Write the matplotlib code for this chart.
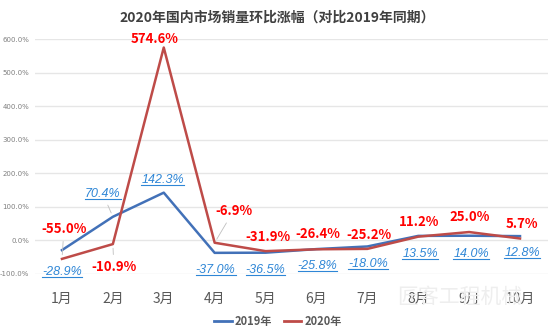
import matplotlib
matplotlib.use('Agg')
import matplotlib.pyplot as plt
from matplotlib.lines import Line2D
from matplotlib.text import Text

plt.rcParams['font.family'] = ['Noto Sans CJK SC', 'DejaVu Sans']

# data
months = ['1月', '2月', '3月', '4月', '5月', '6月', '7月', '8月', '9月', '10月']
sales_2019 = [-28.9, 70.4, 142.3, -37.0, -36.5, -25.8, -18.0, 13.5, 14.0, 12.8]
sales_2020 = [-55.0, -10.9, 574.6, -6.9, -31.9, -26.4, -25.2, 11.2, 25.0, 5.7]

# label offsets (pixels) and whether a leader line is drawn
off_2019 = [(0, -22), (-10, 23), (-1, 13), (1, -17), (0, -17), (1, -17), (1, -18), (2, -18), (2, -18), (2, -17)]
lead_2019 = [False, True, False, False, False, False, False, False, False, False]
off_2020 = [(2, 30), (1, -23), (-9, 9), (19, 32), (2, 14), (1, 15), (2, 14), (1, 15), (1, 15), (2, 15)]
lead_2020 = [True, True, False, True, False, False, False, False, False, False]

blue = '#4271B8'
red = '#BE4B48'
lblue = '#2E86D6'

fig = plt.figure(figsize=(5.54, 3.33), dpi=100)
ax = fig.add_axes([35 / 554, 1 - 274 / 333, 513 / 554, 235 / 333])

x = list(range(len(months)))
ax.plot(x, sales_2019, color=blue, lw=1.8, zorder=3)
ax.plot(x, sales_2020, color=red, lw=1.8, zorder=3)

ax.set_xlim(-0.53, 9.55)
ax.set_ylim(-100, 600)
ax.set_yticks(range(-100, 601, 100))
ax.set_yticklabels(['%.1f%%' % v for v in range(-100, 601, 100)], fontsize=5, color='#7F7F7F',
                   family=['DejaVu Sans'])
ax.set_xticks(x)
ax.set_xticklabels(months, fontsize=10, color='#595959')
ax.tick_params(axis='both', length=0)
ax.tick_params(axis='x', pad=13)
ax.tick_params(axis='y', pad=4)
ax.grid(axis='y', color='#E6E6E6', lw=1)
ax.set_axisbelow(True)
for s in ax.spines.values():
    s.set_visible(False)

blue_texts = []
for i, v in enumerate(sales_2019):
    ap = dict(arrowstyle='-', color='#BFBFBF', lw=0.6, shrinkA=2, shrinkB=3) if lead_2019[i] else None
    t = ax.annotate('%.1f%%' % v, (i, v), xytext=off_2019[i], textcoords='offset pixels',
                    ha='center', va='center', fontsize=9, color=lblue, style='italic',
                    family=['Liberation Sans'], arrowprops=ap, zorder=4)
    blue_texts.append(t)

for i, v in enumerate(sales_2020):
    ap = dict(arrowstyle='-', color='#BFBFBF', lw=0.6, shrinkA=2, shrinkB=3) if lead_2020[i] else None
    ax.annotate('%.1f%%' % v, (i, v), xytext=off_2020[i], textcoords='offset pixels',
                ha='center', va='center', fontsize=9.5, color='#FF0000', fontweight='bold',
                arrowprops=ap, zorder=4)

fig.text(0.5, 1 - 18 / 333, '2020年国内市场销量环比涨幅（对比2019年同期）', ha='center', va='center',
         fontsize=10, fontweight='bold', color='#404040')

# watermark
fig.text(0.83, 1 - 297 / 333, '匠客工程机械', ha='center', va='center', fontsize=15,
         color='#EEEEEE', zorder=0)

handles = [Line2D([], [], color=blue, lw=2), Line2D([], [], color=red, lw=2)]
leg = fig.legend(handles, ['2019年', '2020年'], loc='center', bbox_to_anchor=(278 / 554, 1 - 321 / 333),
                 ncol=2, frameon=False, handlelength=1.6, handletextpad=0.3, columnspacing=1.0,
                 prop={'size': 8, 'weight': 'bold'})
for t in leg.get_texts():
    t.set_color('#595959')

# underline the 2019 labels (text box only, without the leader line)
fig.canvas.draw()
r = fig.canvas.get_renderer()
for t in blue_texts:
    bb = Text.get_window_extent(t, r)
    yb = bb.y0 + 1
    fig.add_artist(Line2D([bb.x0 / 554, bb.x1 / 554], [yb / 333, yb / 333], color=lblue, lw=0.8,
                          transform=fig.transFigure))

fig.savefig('out.png', dpi=100)
